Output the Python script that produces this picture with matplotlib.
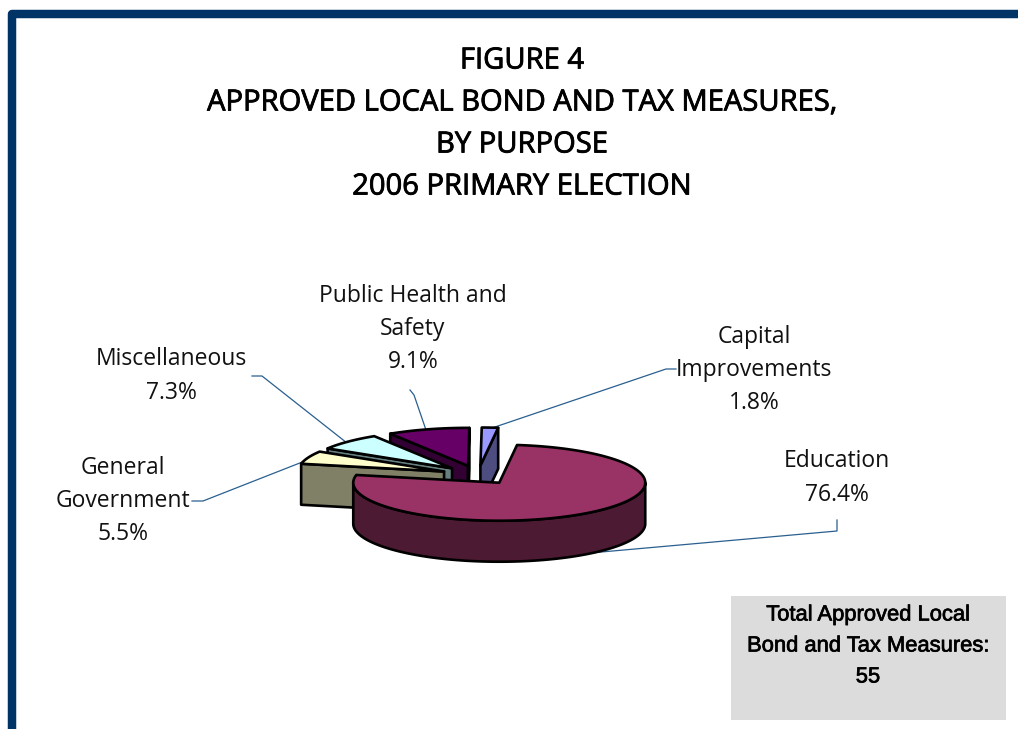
import numpy as np
import matplotlib
matplotlib.use("Agg")
import matplotlib.pyplot as plt
import matplotlib.patheffects as pe
from matplotlib.patches import Polygon, Rectangle

# Measures approved, by purpose (percent)
purposes = ["Education", "General\nGovernment", "Miscellaneous", "Public Health and\nSafety", "Capital\nImprovements"]
shares = [76.4, 5.5, 7.3, 9.1, 1.8]
top_colors = ["#993366", "#FFFFCC", "#CCFFFF", "#660066", "#9999FF"]
side_colors = ["#4D1A33", "#808066", "#668080", "#330033", "#4D4D80"]
title_lines = ["FIGURE 4", "APPROVED LOCAL BOND AND TAX MEASURES,", "BY PURPOSE", "2006 PRIMARY ELECTION"]
total_lines = ["Total Approved Local", "Bond and Tax Measures:", "55"]

# Pie layout, in pixels
cx, cy = 478, 475
rx, ry = 146, 38
depth = 41
explode = 0.25
first_angle = 7

label_pos = [(837, 478), (123, 501), (171, 376), (413, 329), (754, 370)]
leaders = [
    [(590, 553), (837, 531), (837, 520)],
    [(310, 459), (203, 501), (192, 501)],
    [(347, 443), (262, 376), (252, 376)],
    [(426, 430), (414, 395), (410, 390)],
    [(492, 428), (666, 369), (676, 369)],
]
draw_order = [4, 3, 2, 1, 0]

plt.rcParams["font.family"] = ["Open Sans", "DejaVu Sans"]

fig = plt.figure(figsize=(10.18, 7.29), dpi=100)
ax = fig.add_axes([0, 0, 1, 1])
ax.set_xlim(0, 1018)
ax.set_ylim(729, 0)
ax.axis("off")

# frame around the page
ax.plot([12.5, 12.5, 1030], [740, 14, 14], color="#003366", lw=6.1, solid_joinstyle="round")

heavy = [pe.withStroke(linewidth=0.6, foreground="black")]

for i, line in enumerate(title_lines):
    ax.text(522, 61 + 42 * i, line, ha="center", va="center", fontsize=21,
            color="black", path_effects=heavy)


def rim(a0, a1, x0, y0):
    t = np.radians(np.linspace(a0, a1, max(int(abs(a1 - a0)) + 2, 2)))
    return np.column_stack([x0 + rx * np.sin(t), y0 - ry * np.cos(t)])


def extrude(pts):
    pts = np.asarray(pts)
    return np.vstack([pts, (pts + [0, depth])[::-1]])


edges = first_angle + np.concatenate([[0], np.cumsum(shares)]) * 360 / sum(shares)

for lead in leaders:
    xs, ys = zip(*lead)
    ax.plot(xs, ys, color="#2A5F8F", lw=0.9, zorder=1)

z = 2
for i in draw_order:
    a0, a1 = edges[i], edges[i + 1]
    mid = np.radians((a0 + a1) / 2)
    x0 = cx + explode * rx * np.sin(mid)
    y0 = cy - explode * ry * np.cos(mid)
    apex = np.array([x0, y0])
    mid_pt = apex + [rx * np.sin(mid), -ry * np.cos(mid)]
    style = dict(ec="black", lw=1.9, joinstyle="round")

    # cut faces of the slice that turn toward the viewer
    for a in (a0, a1):
        r = np.radians(a)
        end = apex + [rx * np.sin(r), -ry * np.cos(r)]
        d = end - apex
        n = np.array([-d[1], d[0]])
        if np.dot(n, mid_pt - apex) > 0:
            n = -n
        if n[1] > 0:
            ax.add_patch(Polygon(extrude([apex, end]), fc=side_colors[i], zorder=z, **style))

    # outer wall, only the front half of the ellipse shows
    lo, hi = max(a0, 90), min(a1, 270)
    if lo < hi:
        ax.add_patch(Polygon(extrude(rim(lo, hi, x0, y0)), fc=side_colors[i], zorder=z, **style))

    top = np.vstack([apex, rim(a0, a1, x0, y0)])
    ax.add_patch(Polygon(top, fc=top_colors[i], zorder=z, **style))
    z += 1

for name, val, (x, y) in zip(purposes, shares, label_pos):
    ax.text(x, y, f"{name}\n{val}%", ha="center", va="center", fontsize=16.5,
            color="#111111", linespacing=1.52, zorder=20)

# total box
ax.add_patch(Rectangle((731, 596), 275, 124, fc="#DCDCDC", ec="none", zorder=1))
for i, line in enumerate(total_lines):
    ax.text(868, 615 + 31 * i, line, ha="center", va="center", fontsize=15.8,
            family="Liberation Sans", color="black", zorder=2,
            path_effects=[pe.withStroke(linewidth=0.5, foreground="black")])

fig.savefig("out.png", dpi=100)
